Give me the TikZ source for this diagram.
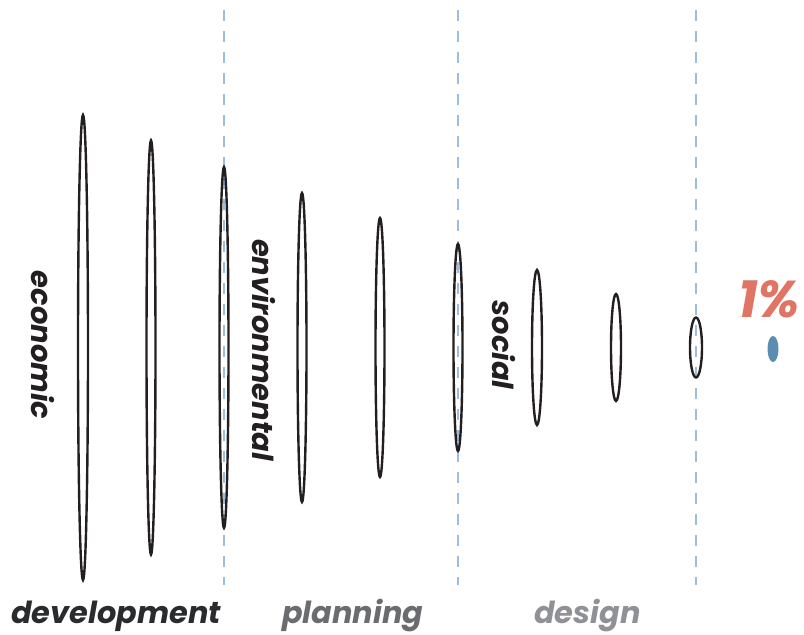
\documentclass[tikz,border=0pt]{standalone}
\usepackage{fontspec}
\newfontfamily\pop{Poppins}
\definecolor{ink}{HTML}{231F20}
\definecolor{dashblue}{HTML}{9CBEDD}
\definecolor{dotblue}{HTML}{5A8DB0}
\definecolor{salmon}{HTML}{E07565}
\definecolor{labA}{HTML}{2A2B2F}
\definecolor{labB}{HTML}{6B6C70}
\definecolor{labC}{HTML}{909196}
\begin{document}
\begin{tikzpicture}[x=1bp,y=-1bp,
  ring/.style={draw=ink,line width=2.4bp},
  guide/.style={draw=dashblue,line width=1.2bp,dash pattern=on 11bp off 10bp},
  word/.style={font=\pop\bfseries\itshape\fontsize{29}{29}\selectfont,text=ink,inner sep=0pt},
  lab/.style={font=\pop\bfseries\itshape\fontsize{30.5}{30.5}\selectfont,inner sep=0pt,anchor=base west}]
\useasboundingbox (0,0) rectangle (804,635);
% guides
\foreach \n/\x in {g1/224,g2/458,g3/696}{
  \coordinate (\n t) at (\x,10);
  \coordinate (\n b) at (\x,585);
  \draw[guide] (\n t) -- (\n b);
}
% ellipses
\foreach \n/\x/\h/\w in {e1/83/465/10,e2/151/414/9,e3/224/361/9,e4/302/309/9,e5/380/259/9,e6/458/207/9,e7/537/155/10,e8/616/107/10,e9/696/60/12}{
  \draw[ring] (\x,347.5) ellipse [x radius=\w/2, y radius=\h/2];
}
\fill[dotblue] (773,349) ellipse [x radius=5.5, y radius=13];
% words
\node[word,rotate=-90] (eco) at (43,345) {economic};
\node[word,rotate=-90] (env) at (264,350) {environmental};
\node[word,rotate=-90] (soc) at (504,345) {social};
\node[font=\pop\bfseries\itshape\fontsize{52}{52}\selectfont,text=salmon,inner sep=0pt] (pct) at (769,299) {1\%};
% bottom labels
\node[lab,text=labA] (dev) at (11,623) {development};
\node[lab,text=labB] (pla) at (282,623) {planning};
\node[lab,text=labC] (des) at (534,623) {design};
\end{tikzpicture}
\end{document}
